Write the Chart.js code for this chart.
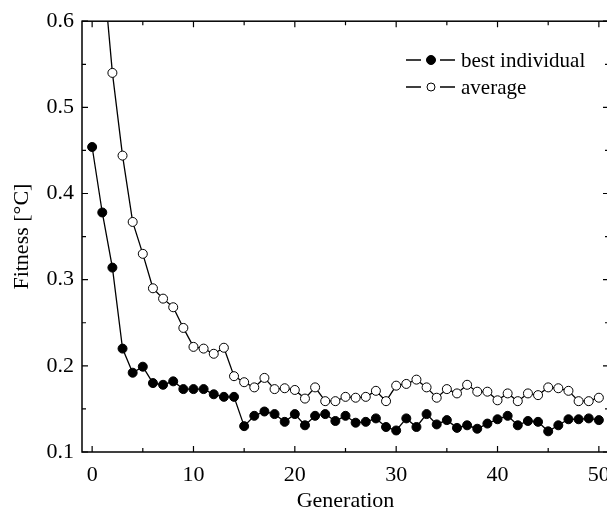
<!DOCTYPE html>
<html>
<head>
<meta charset="utf-8">
<script src="https://cdn.jsdelivr.net/npm/chart.js@4/dist/chart.umd.min.js"></script>
<style>
  html, body { margin: 0; padding: 0; background: #fff; overflow: hidden; }
  #wrap { width: 607px; height: 520px; overflow: hidden; }
  canvas { display: block; }
</style>
</head>
<body>
<div id="wrap"><canvas id="fitnessChart" width="625" height="520"></canvas></div>
<script>
// values
const generations = [];
for (let g = 0; g <= 50; g++) generations.push(g);

const bestIndividual = [
    0.454, 0.378, 0.314, 0.220, 0.192, 0.199, 0.180, 0.178, 0.182, 0.173,
    0.173, 0.173, 0.167, 0.164, 0.164, 0.130, 0.142, 0.147, 0.144, 0.135,
    0.144, 0.131, 0.142, 0.144, 0.136, 0.142, 0.134, 0.135, 0.139, 0.129,
    0.125, 0.139, 0.129, 0.144, 0.132, 0.137, 0.128, 0.131, 0.127, 0.133,
    0.138, 0.142, 0.131, 0.136, 0.135, 0.124, 0.131, 0.138, 0.138, 0.139,
    0.137
];

// first two average values lie above the plotted range
const average = [
    0.860, 0.671, 0.540, 0.444, 0.367, 0.330, 0.290, 0.278, 0.268, 0.244,
    0.222, 0.220, 0.214, 0.221, 0.188, 0.181, 0.175, 0.186, 0.173, 0.174,
    0.172, 0.162, 0.175, 0.159, 0.159, 0.164, 0.163, 0.164, 0.171, 0.159,
    0.177, 0.179, 0.184, 0.175, 0.163, 0.173, 0.168, 0.178, 0.170, 0.170,
    0.160, 0.168, 0.159, 0.168, 0.166, 0.175, 0.174, 0.171, 0.159, 0.159,
    0.163
];

const xTicks = [0, 10, 20, 30, 40, 50];
const yTicks = [0.1, 0.2, 0.3, 0.4, 0.5, 0.6];
const seriesNames = ['best individual', 'average'];

const serif = '"Liberation Serif", "Times New Roman", serif';

// frame, inward ticks on all four sides, and the legend inside the plot
const framePlugin = {
    id: 'frame',
    afterDraw(chart) {
        const ctx = chart.ctx;
        const a = chart.chartArea;
        const xs = chart.scales.x, ys = chart.scales.y;
        ctx.save();
        ctx.strokeStyle = '#000';
        ctx.lineWidth = 1.5;
        ctx.strokeRect(a.left, a.top, a.right - a.left, a.bottom - a.top);

        ctx.lineWidth = 1.2;
        ctx.beginPath();
        for (let v = 0; v <= 50; v += 5) {
            const len = v % 10 === 0 ? 6 : 4;
            const px = xs.getPixelForValue(v);
            ctx.moveTo(px, a.bottom); ctx.lineTo(px, a.bottom - len);
            ctx.moveTo(px, a.top); ctx.lineTo(px, a.top + len);
        }
        for (let i = 0; i <= 10; i++) {
            const v = 0.1 + i * 0.05;
            const len = i % 2 === 0 ? 6 : 4;
            const py = ys.getPixelForValue(v);
            ctx.moveTo(a.left, py); ctx.lineTo(a.left + len, py);
            ctx.moveTo(a.right, py); ctx.lineTo(a.right - len, py);
        }
        ctx.stroke();

        // legend: —●— label
        ctx.font = '21px ' + serif;
        ctx.textBaseline = 'middle';
        chart.data.datasets.forEach((ds, i) => {
            const y = 60 + i * 27;
            const x0 = 406;
            ctx.lineWidth = 1.5;
            ctx.beginPath();
            ctx.moveTo(x0, y); ctx.lineTo(x0 + 15, y);
            ctx.moveTo(x0 + 34, y); ctx.lineTo(x0 + 49, y);
            ctx.stroke();
            ctx.beginPath();
            ctx.arc(x0 + 25, y, i === 0 ? 4.5 : 4, 0, Math.PI * 2);
            ctx.fillStyle = ds.pointBackgroundColor;
            ctx.fill();
            ctx.lineWidth = 1;
            ctx.stroke();
            ctx.fillStyle = '#000';
            ctx.fillText(ds.label, x0 + 55, y + 1);
        });
        ctx.restore();
    }
};

const ctx = document.getElementById('fitnessChart').getContext('2d');

new Chart(ctx, {
    type: 'line',
    data: {
        datasets: [
            {
                label: seriesNames[0],
                data: bestIndividual.map((v, i) => ({ x: generations[i], y: v })),
                borderColor: '#000',
                borderWidth: 1.3,
                pointRadius: 4.5,
                pointBackgroundColor: '#000',
                pointBorderColor: '#000',
                pointBorderWidth: 1,
                tension: 0
            },
            {
                label: seriesNames[1],
                data: average.map((v, i) => ({ x: generations[i], y: v })),
                borderColor: '#000',
                borderWidth: 1.3,
                pointRadius: 4.5,
                pointBackgroundColor: '#fff',
                pointBorderColor: '#000',
                pointBorderWidth: 1,
                tension: 0
            }
        ]
    },
    options: {
        responsive: false,
        animation: false,
        devicePixelRatio: 1,
        layout: { padding: { top: 21, right: 16, left: 0, bottom: 0 } },
        plugins: {
            legend: { display: false },
            tooltip: { enabled: false }
        },
        scales: {
            x: {
                type: 'linear',
                min: -1,
                max: 51,
                afterBuildTicks: s => { s.ticks = xTicks.map(v => ({ value: v })); },
                afterFit: s => { s.height = 68; },
                grid: { display: false, drawTicks: false },
                border: { display: false },
                ticks: {
                    color: '#000',
                    padding: 10,
                    font: { family: serif, size: 22 },
                    maxRotation: 0
                },
                title: {
                    display: true,
                    text: 'Generation',
                    color: '#000',
                    font: { family: serif, size: 22 },
                    padding: { top: 0, bottom: 6 }
                }
            },
            y: {
                min: 0.1,
                max: 0.6,
                afterBuildTicks: s => { s.ticks = yTicks.map(v => ({ value: v })); },
                afterFit: s => { s.width = 82; },
                grid: { display: false, drawTicks: false },
                border: { display: false },
                ticks: {
                    color: '#000',
                    padding: 8,
                    font: { family: serif, size: 22 },
                    callback: v => v.toFixed(1)
                },
                title: {
                    display: true,
                    text: 'Fitness [°C]',
                    color: '#000',
                    font: { family: serif, size: 22 },
                    padding: { top: 9, bottom: 0 }
                }
            }
        }
    },
    plugins: [framePlugin]
});
</script>
</body>
</html>
